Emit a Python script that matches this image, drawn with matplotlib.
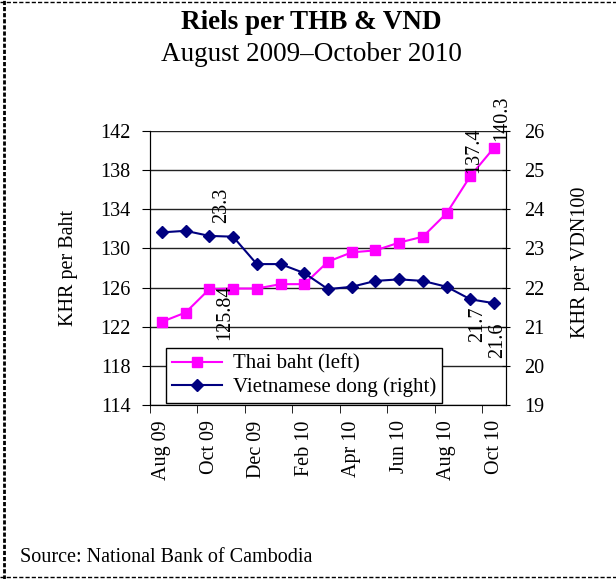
import numpy as np
import matplotlib
matplotlib.use("Agg")
import matplotlib.pyplot as plt
from matplotlib.lines import Line2D

plt.rcParams["font.family"] = ["Liberation Serif", "DejaVu Serif"]

months = ["Aug 09", "Sep 09", "Oct 09", "Nov 09", "Dec 09", "Jan 10", "Feb 10", "Mar 10",
          "Apr 10", "May 10", "Jun 10", "Jul 10", "Aug 10", "Sep 10", "Oct 10"]
thb = [122.5, 123.45, 125.84, 125.9, 125.9, 126.35, 126.35, 128.65,
       129.6, 129.8, 130.6, 131.2, 133.6, 137.4, 140.3]
vnd = [23.41, 23.45, 23.32, 23.3, 22.6, 22.6, 22.37, 21.96,
       22.02, 22.17, 22.21, 22.17, 22.02, 21.7, 21.6]

# data labels: (series, index, text, dx px, dy px, va)
labels = [("thb", 2, "125.84", 15, 5, "top"),
          ("vnd", 2, "23.3", 12, 13, "bottom"),
          ("thb", 13, "137.4", 3, 3, "bottom"),
          ("thb", 14, "140.3", 8, 7, "bottom"),
          ("vnd", 13, "21.7", 7, -7, "top"),
          ("vnd", 14, "21.6", 3, -19, "top")]

fs = 14.5
fig = plt.figure(figsize=(6.16, 5.79), dpi=100)
ax = fig.add_axes([150/616, 1-405/579, 356/616, 274/579])
ax2 = ax.twinx()

x = np.arange(len(months))
l1, = ax.plot(x, thb, color="#FF00FF", marker="s", ms=6.5, lw=1.5, label="Thai baht (left)")
l2, = ax2.plot(x, vnd, color="#000080", marker="D", ms=6, lw=1.5, label="Vietnamese dong (right)")

ax.set_xlim(-0.5, len(months) - 0.5)
ax.set_ylim(114, 142)
ax.set_yticks(np.arange(114, 143, 4))
ax2.set_ylim(19, 26)
ax2.set_yticks(np.arange(19, 27, 1))
ax.grid(axis="y", color="#222222", lw=1)
ax.set_axisbelow(True)

ax.set_xticks(x[::2])
ax.set_xticklabels(months[::2], rotation=90, fontsize=fs)
ax.set_xticks(np.arange(-0.5, len(months), 2), minor=True)
ax.tick_params(axis="x", which="major", length=0, pad=11)
ax.tick_params(axis="x", which="minor", length=6, direction="out")
ax.tick_params(axis="y", labelsize=fs, length=6, pad=8)
ax2.tick_params(axis="y", labelsize=fs, length=6, direction="inout", pad=10)

ax.spines["top"].set_visible(False)
ax2.spines["top"].set_visible(False)

for ser, i, txt, dx, dy, va in labels:
    a = ax if ser == "thb" else ax2
    y = thb[i] if ser == "thb" else vnd[i]
    a.annotate(txt, (x[i], y), xytext=(dx, dy), textcoords="offset pixels",
               rotation=90, ha="center", va=va, fontsize=fs)

leg = ax2.legend(handles=[l1, l2], loc="lower left", bbox_to_anchor=(0.045, 0.007),
                 fontsize=15, frameon=True, fancybox=False, edgecolor="black",
                 handlelength=2.4, handletextpad=0.5, borderpad=0.3,
                 labelspacing=0.15, borderaxespad=0)
leg.get_frame().set_linewidth(1)
leg.get_frame().set_alpha(1)

fig.text(0.505, 1-29/579, "Riels per THB & VND", ha="center", va="baseline",
         fontsize=19.5, fontweight="bold")
fig.text(0.505, 1-61/579, "August 2009\u2013October 2010", ha="center", va="baseline",
         fontsize=19.5)
fig.text(68/616, 1-268/579, "KHR per Baht", rotation=90, ha="center", va="center", fontsize=fs)
fig.text(580/616, 1-262/579, "KHR per VDN100", rotation=90, ha="center", va="center", fontsize=fs)
fig.text(20/616, 1-557/579, "Source: National Bank of Cambodia", ha="left", va="center", fontsize=fs)

# dashed frame
fig.add_artist(Line2D([0, 1], [1-2/579, 1-2/579], color="black", lw=1, ls=(0, (3, 1.5)), transform=fig.transFigure))
fig.add_artist(Line2D([0, 1], [1-577/579, 1-577/579], color="black", lw=1, ls=(0, (3, 1.5)), transform=fig.transFigure))
fig.add_artist(Line2D([4/616, 4/616], [0, 1], color="black", lw=2, ls=(0, (1.5, 0.7)), transform=fig.transFigure))

fig.savefig("out.png", dpi=100)
